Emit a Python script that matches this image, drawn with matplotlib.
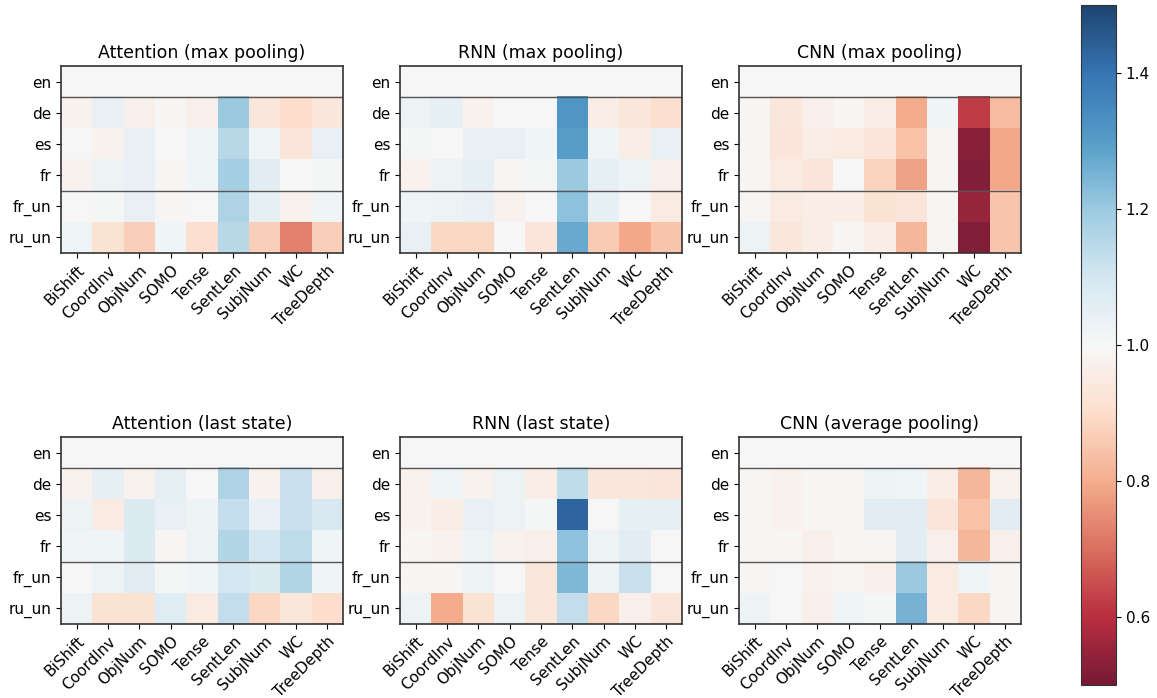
import numpy as np
import matplotlib
matplotlib.use("Agg")
import matplotlib.pyplot as plt

tasks = ['BiShift', 'CoordInv', 'ObjNum', 'SOMO', 'Tense',
         'SentLen', 'SubjNum', 'WC', 'TreeDepth']
langs = ['en', 'de', 'es', 'fr', 'fr_un', 'ru_un']

# relative scores (rows = langs, cols = tasks)
att_max = [
    [1.00, 1.00, 1.00, 1.00, 1.00, 1.00, 1.00, 1.00, 1.00],
    [0.98, 1.04, 0.97, 0.99, 0.97, 1.20, 0.94, 0.90, 0.94],
    [1.00, 0.98, 1.04, 1.00, 1.02, 1.15, 1.02, 0.93, 1.04],
    [0.98, 1.03, 1.04, 0.99, 1.02, 1.18, 1.06, 1.00, 1.01],
    [1.00, 1.01, 1.04, 0.99, 1.00, 1.17, 1.05, 0.98, 1.02],
    [1.02, 0.92, 0.87, 1.02, 0.91, 1.15, 0.87, 0.73, 0.87],
]
rnn_max = [
    [1.00, 1.00, 1.00, 1.00, 1.00, 1.00, 1.00, 1.00, 1.00],
    [1.03, 1.05, 0.98, 1.00, 1.00, 1.32, 0.96, 0.94, 0.91],
    [1.01, 1.00, 1.04, 1.04, 1.02, 1.30, 1.02, 0.96, 1.04],
    [0.98, 1.03, 1.05, 0.99, 1.01, 1.20, 1.05, 1.03, 0.97],
    [1.02, 1.03, 1.04, 0.98, 1.00, 1.22, 1.05, 1.00, 0.95],
    [1.04, 0.89, 0.89, 1.00, 0.93, 1.27, 0.86, 0.79, 0.85],
]
cnn_max = [
    [1.00, 1.00, 1.00, 1.00, 1.00, 1.00, 1.00, 1.00, 1.00],
    [0.99, 0.94, 0.97, 0.99, 0.96, 0.80, 1.02, 0.62, 0.83],
    [0.99, 0.93, 0.96, 0.95, 0.93, 0.84, 0.99, 0.53, 0.79],
    [0.99, 0.95, 0.93, 1.00, 0.88, 0.78, 0.99, 0.52, 0.79],
    [0.99, 0.95, 0.96, 0.96, 0.92, 0.93, 0.99, 0.55, 0.85],
    [1.03, 0.94, 0.96, 0.99, 0.96, 0.82, 0.99, 0.52, 0.85],
]
att_last = [
    [1.00, 1.00, 1.00, 1.00, 1.00, 1.00, 1.00, 1.00, 1.00],
    [0.98, 1.05, 0.98, 1.05, 1.00, 1.17, 0.98, 1.12, 0.97],
    [1.03, 0.95, 1.08, 1.04, 1.03, 1.13, 1.04, 1.12, 1.09],
    [1.02, 1.02, 1.08, 0.99, 1.03, 1.16, 1.10, 1.14, 1.02],
    [1.00, 1.03, 1.06, 1.01, 1.02, 1.10, 1.08, 1.16, 1.02],
    [1.03, 0.92, 0.92, 1.07, 0.95, 1.13, 0.89, 0.94, 0.90],
]
rnn_last = [
    [1.00, 1.00, 1.00, 1.00, 1.00, 1.00, 1.00, 1.00, 1.00],
    [0.98, 1.02, 0.98, 1.03, 0.96, 1.14, 0.94, 0.94, 0.93],
    [0.98, 0.96, 1.04, 1.03, 1.01, 1.43, 1.00, 1.05, 1.05],
    [0.99, 0.98, 1.03, 0.98, 0.97, 1.22, 1.03, 1.06, 1.00],
    [0.99, 0.99, 1.03, 1.00, 0.94, 1.24, 1.03, 1.12, 1.00],
    [1.03, 0.80, 0.92, 1.03, 0.94, 1.13, 0.89, 0.97, 0.93],
]
cnn_avg = [
    [1.00, 1.00, 1.00, 1.00, 1.00, 1.00, 1.00, 1.00, 1.00],
    [0.99, 0.98, 0.99, 0.99, 1.03, 1.02, 0.96, 0.82, 0.98],
    [0.99, 0.98, 0.99, 0.99, 1.06, 1.06, 0.93, 0.84, 1.06],
    [0.99, 0.99, 0.97, 0.99, 0.99, 1.06, 0.97, 0.82, 0.97],
    [0.99, 1.00, 0.98, 0.99, 0.97, 1.20, 0.95, 1.02, 0.99],
    [1.03, 1.00, 0.97, 1.02, 1.01, 1.25, 0.95, 0.89, 0.99],
]

panels = [
    ('Attention (max pooling)', att_max),
    ('RNN (max pooling)', rnn_max),
    ('CNN (max pooling)', cnn_max),
    ('Attention (last state)', att_last),
    ('RNN (last state)', rnn_last),
    ('CNN (average pooling)', cnn_avg),
]

fig = plt.figure(figsize=(11.57, 6.98), dpi=100)
lefts = [0.0527, 0.3457, 0.6387]
bottoms = [0.6375, 0.106]
w, h = 0.2437, 0.268

for i, (title, vals) in enumerate(panels):
    ax = fig.add_axes([lefts[i % 3], bottoms[i // 3], w, h])
    im = ax.imshow(np.array(vals), cmap='RdBu', vmin=0.5, vmax=1.5,
                   alpha=0.9, aspect='auto')
    ax.axhline(0.5, color='#555555', lw=1)
    ax.axhline(3.5, color='#555555', lw=1)
    ax.set_xticks(range(len(tasks)))
    ax.set_xticklabels(tasks, rotation=45, ha='right', rotation_mode='anchor',
                       fontsize=11)
    ax.set_yticks(range(len(langs)))
    ax.set_yticklabels(langs, fontsize=11)
    ax.set_title(title, fontsize=12.5)
    for s in ax.spines.values():
        s.set_color('#333333')
        s.set_linewidth(1.2)

cax = fig.add_axes([0.9343, 0.0186, 0.0302, 0.974])
cb = fig.colorbar(im, cax=cax)
cb.set_ticks([0.6, 0.8, 1.0, 1.2, 1.4])
cb.ax.tick_params(labelsize=11)
cb.outline.set_edgecolor('#333333')

fig.savefig('out.png', dpi=100)
